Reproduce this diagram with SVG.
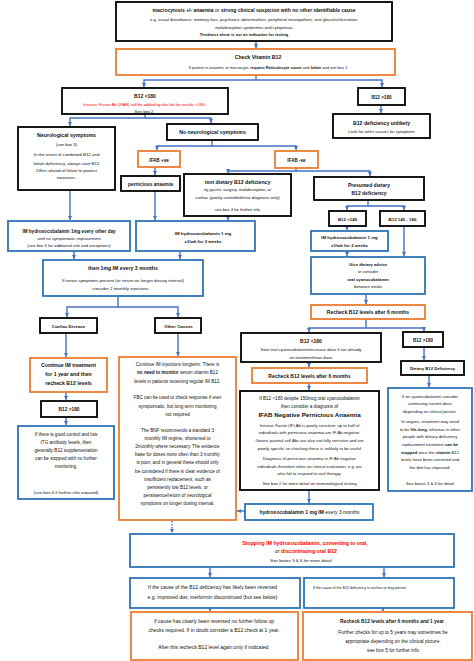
<svg xmlns="http://www.w3.org/2000/svg" width="474" height="661" viewBox="0 0 474 661">
<defs>
<style>
.bk{fill:#fff;stroke:#000;stroke-width:1.8}
.or{fill:#fff;stroke:#ED7D31;stroke-width:1.8}
.bl{fill:#fff;stroke:#2E75B6;stroke-width:1.8}
.c{fill:none;stroke:#4472C4;stroke-width:1.4;marker-end:url(#a)}
.d{stroke-dasharray:1.6 1.4}
text{font-family:"Liberation Sans",Arial,sans-serif;fill:#111;text-anchor:middle}
.b{font-weight:bold}
.r{fill:#f00}
.s36{font-size:3.6px}.s40{font-size:4px}.s42{font-size:4.2px}.s44{font-size:4.4px}
.s46{font-size:4.6px}.s48{font-size:4.8px}.s50{font-size:5px}.s52{font-size:5.2px}.s54{font-size:5.4px}.s62{font-size:6.2px}
</style>
<marker id="a" viewBox="0 0 6 6" refX="6" refY="3" markerWidth="4.2" markerHeight="4.2" orient="auto" markerUnits="userSpaceOnUse"><path d="M0,0 L6,3 L0,6 z" fill="#4472C4"/></marker>
</defs>

<g id="connectors">
<path class="c" d="M256 42 V48"/>
<path class="c" d="M256 75 V80 H144 V87"/>
<path class="c" d="M256 80 H382 V87"/>
<path class="c" d="M381 105 V113"/>
<path class="c" d="M145 114 V118 H70 V126"/>
<path class="c" d="M145 118 H211 V123"/>
<path class="c" d="M70 190 V220"/>
<path class="c" d="M212 140 V146 H157 V150"/>
<path class="c" d="M212 146 H296 V150"/>
<path class="c" d="M155 167 V175"/>
<path class="c" d="M296 168 V171 H228 V173"/>
<path class="c" d="M296 171 H370 V176"/>
<path class="c" d="M155 191 V220"/>
<path class="c" d="M228 216 V220"/>
<path class="c" d="M368 200 V206 H347 V210"/>
<path class="c" d="M368 206 H404 V210"/>
<path class="c" d="M347 226 V230"/>
<path class="c" d="M347 251 V256"/>
<path class="c" d="M404 226 V256"/>
<path class="c" d="M366 294 V304"/>
<path class="c" d="M366 319 V328 H309 V332"/>
<path class="c" d="M366 328 H424 V331"/>
<path class="c" d="M74 251 V259"/>
<path class="c" d="M180 251 V259"/>
<path class="c" d="M118 296 V307 H67 V317"/>
<path class="c" d="M118 307 H178 V317"/>
<path class="c" d="M66 333 V357"/>
<path class="c" d="M66 392 V400"/>
<path class="c" d="M66 417 V425"/>
<path class="c" d="M178 333 V356"/>
<path class="c" d="M309 362 V367"/>
<path class="c" d="M309 383 V390"/>
<path class="c" d="M309 490 V503"/>
<path class="c" d="M424 347 V360"/>
<path class="c" d="M429 375 V387"/>
<path class="c" d="M245 511 H237"/>
<path class="c d" d="M172 521 V533"/>
<path class="c" d="M210 567 V577"/>
<path class="c" d="M384 567 V577"/>
<path class="c" d="M210 608 V611"/>
<path class="c" d="M383 608 V611"/>
</g>

<g id="n-start">
<rect class="bk" x="116" y="2" width="276" height="39" stroke-width="2"/>
<text x="254" y="12" class="s50"><tspan class="b">macrocytosis +/- anaemia</tspan> or <tspan class="b">strong clinical suspicion with no other identifiable cause</tspan></text>
<text x="254" y="21" class="s42">e.g. visual disturbance, memory loss, psychiatric abnormalities, peripheral neuropathies, oral glossitis/ulceration,</text>
<text x="254" y="28.5" class="s42">malabsorption syndromes and cytopenias</text>
<text x="244" y="36" class="s40 b">Tiredness alone is not an indication for testing</text>
</g>

<g id="n-check">
<rect class="or" x="116" y="49" width="279" height="26"/>
<text x="258" y="59" class="s52 b">Check Vitamin B12</text>
<text x="268" y="69" class="s40">If patient is anaemic or macrocytic <tspan class="b">request Reticulocyte count</tspan> and <tspan class="b">folate</tspan> and see box 1</text>
</g>

<g id="n-b12lt180">
<rect class="bk" x="62" y="88" width="166" height="26"/>
<text x="145" y="98" class="s50 b">B12 &lt;180</text>
<text x="144" y="106" class="s42 r">Intrinsic Factor Ab (IFAB) will be added by the lab for results &lt;180</text>
<text x="144" y="113" class="s42">See box 2</text>
</g>

<g id="n-b12gt180">
<rect class="bk" x="358" y="88" width="47" height="17"/>
<text x="381.5" y="98.5" class="s46 b">B12 &gt;180</text>
</g>

<g id="n-unlikely">
<rect class="bk" x="333" y="114" width="97" height="24"/>
<text x="381.5" y="125" class="s52 b">B12 deficiency unlikely</text>
<text x="381.5" y="133" class="s42">Look for other causes for symptoms</text>
</g>

<g id="n-neuro">
<rect class="bk" x="18" y="127" width="97" height="63"/>
<text x="66.5" y="137" class="s52 b">Neurological symptoms</text>
<text x="66.5" y="145.5" class="s42">(see box 3)</text>
<text x="66.5" y="156" class="s44">In the event of combined B12 and</text>
<text x="66.5" y="164.5" class="s44">folate deficiency, always start B12</text>
<text x="66.5" y="171.5" class="s44">24hrs ahead of folate to protect</text>
<text x="66.5" y="178.5" class="s44">neurones.</text>
</g>

<g id="n-noneuro">
<rect class="bk" x="167" y="124" width="91" height="16"/>
<text x="212.5" y="134" class="s52 b">No neurological  symptoms</text>
</g>

<g id="n-ifabpos">
<rect class="or" x="138" y="151" width="42" height="16"/>
<text x="159" y="161.5" class="s46 b">IFAB +ve</text>
</g>

<g id="n-ifabneg">
<rect class="or" x="275" y="151" width="43" height="17"/>
<text x="296.5" y="162" class="s46 b">IFAB -ve</text>
</g>

<g id="n-pernicious">
<rect class="bk" x="121" y="176" width="59" height="15"/>
<text x="150.5" y="185.5" class="s48 b">pernicious anaemia</text>
</g>

<g id="n-nondietary">
<rect class="bk" x="184" y="174" width="107" height="42"/>
<text x="237.5" y="184" class="s52 b">non dietary B12 deficiency</text>
<text x="237.5" y="191" class="s42">eg gastric surgery, malabsorption, or</text>
<text x="237.5" y="198.5" class="s42">coeliac (poorly controlled/new diagnosis only)</text>
<text x="237.5" y="210.5" class="s42">see box 4 for further info</text>
</g>

<g id="n-presumed">
<rect class="bk" x="314" y="177" width="110" height="23"/>
<text x="369" y="186.5" class="s50 b">Presumed dietary</text>
<text x="369" y="195" class="s50 b">B12 deficiency</text>
</g>

<g id="n-lt145">
<rect class="bk" x="329" y="211" width="37" height="15"/>
<text x="347.5" y="220.5" class="s44 b">B12 &lt;145</text>
</g>

<g id="n-145-180">
<rect class="bk" x="380" y="211" width="45" height="15"/>
<text x="402.5" y="220.5" class="s44 b">B12 145 - 180</text>
</g>

<g id="n-im-dietary">
<rect class="bl" x="311" y="231" width="77" height="20"/>
<text x="349.5" y="238.5" class="s44 b">IM hydroxocobalamin 1 mg</text>
<text x="349.5" y="246.5" class="s44 b">x1/wk for 2 weeks</text>
</g>

<g id="n-give">
<rect class="bl" x="311" y="257" width="114" height="37"/>
<text x="368" y="265.5" class="s42 b">Give dietary advice</text>
<text x="368" y="273" class="s42">or consider</text>
<text x="368" y="280.5" class="s42 b">oral cyanocobalamin</text>
<text x="368" y="288" class="s42">between meals</text>
</g>

<g id="n-recheck-right">
<rect class="or" x="311" y="305" width="114" height="14"/>
<text x="368" y="313.8" class="s50 b">Recheck B12 levels after 6 months</text>
</g>

<g id="n-b12lt180-right">
<rect class="bk" x="241" y="333" width="140" height="29"/>
<text x="311" y="343" class="s50 b">B12 &lt;180</text>
<text x="311" y="351" class="s42">Start oral cyanocobalamin/increase dose if not already</text>
<text x="311" y="358.5" class="s42">on treatment/max dose</text>
</g>

<g id="n-b12gt180-right">
<rect class="bk" x="403" y="332" width="40" height="15"/>
<text x="423" y="341.5" class="s46 b">B12 &gt;180</text>
</g>

<g id="n-dietarydef">
<rect class="bk" x="401" y="361" width="63" height="14"/>
<text x="432.5" y="370" class="s42 b">Dietary B12 Deficiency</text>
</g>

<g id="n-dietary-detail">
<rect class="bl" x="388" y="388" width="84" height="103"/>
<text x="430" y="397.5" class="s42">If on cyanocobalamin consider</text>
<text x="430" y="405" class="s42">continuing current dose</text>
<text x="430" y="412.5" class="s42">depending on clinical picture.</text>
<text x="430" y="423" class="s42">In vegans, treatment may need</text>
<text x="430" y="430.5" class="s42">to be <tspan class="b">life-long</tspan>, whereas in other</text>
<text x="430" y="438" class="s42">people with dietary deficiency</text>
<text x="430" y="445.5" class="s42">replacement treatment <tspan class="b">can be</tspan></text>
<text x="430" y="453.5" class="s42"><tspan class="b">stopped</tspan> once the <tspan class="b">vitamin</tspan> B12</text>
<text x="430" y="461" class="s42">levels have been corrected and</text>
<text x="430" y="468.5" class="s42">the diet has improved.</text>
<text x="430" y="484.5" class="s42">See boxes 5 &amp; 6 for detail</text>
</g>

<g id="n-recheck-mid">
<rect class="or" x="252" y="368" width="115" height="15"/>
<text x="309.5" y="377.5" class="s50 b">Recheck B12 levels after 6 months</text>
</g>

<g id="n-ifabneg-pa">
<rect class="bk" x="240" y="391" width="139" height="99"/>
<text x="309.5" y="399.5" class="s46">If B12 &lt;180 despite 150mcg oral cyanocobalamin</text>
<text x="309.5" y="407.5" class="s46">then consider a diagnosis of</text>
<text x="309.5" y="416.5" class="s62 b">IFAB Negative Pernicious Anaemia</text>
<text x="309.5" y="426.5" class="s42">Intrinsic Factor (IF) Ab is poorly sensitive: up to half of</text>
<text x="309.5" y="434" class="s42">individuals with pernicious anaemia are IF Ab negative.</text>
<text x="309.5" y="441.5" class="s42">Gastric parietal cell Abs are also not fully sensitive and are</text>
<text x="309.5" y="449.5" class="s42">poorly specific so checking these is unlikely to be useful</text>
<text x="309.5" y="459.5" class="s42">Diagnosis of pernicious anaemia in IF Ab negative</text>
<text x="309.5" y="467.5" class="s42">individuals therefore relies on clinical evaluation, e.g. pts</text>
<text x="309.5" y="474.5" class="s42">who fail to respond to oral therapy.</text>
<text x="309.5" y="484.5" class="s42">See box 2 for more detail on immunological testing</text>
</g>

<g id="n-im-neuro">
<rect class="bl" x="8" y="221" width="122" height="30"/>
<text x="69" y="233" class="s46 b">IM hydroxocobalamin 1mg every other day</text>
<text x="69" y="240" class="s42">until no symptomatic improvement</text>
<text x="69" y="247" class="s42">(see box 3 for additional info and exceptions)</text>
</g>

<g id="n-im-pa">
<rect class="bl" x="136" y="221" width="119" height="30"/>
<text x="203" y="235" class="s44 b">IM hydroxocobalamin 1 mg</text>
<text x="203" y="243" class="s44 b">x1/wk for 2 weeks</text>
</g>

<g id="n-then">
<rect class="bl" x="43" y="260" width="160" height="36"/>
<text x="123" y="270" class="s52 b">then 1mg IM  every 3 months</text>
<text x="123" y="281.5" class="s44">If neuro symptoms present (or return on longer dosing interval)</text>
<text x="121" y="289.5" class="s44">consider 2 monthly injections.</text>
</g>

<g id="n-coeliac">
<rect class="bk" x="40" y="318" width="57" height="15"/>
<text x="68.5" y="327.5" class="s44 b">Coeliac Disease</text>
</g>

<g id="n-other">
<rect class="bk" x="155" y="318" width="46" height="15"/>
<text x="178.5" y="327.5" class="s44 b">Other Causes</text>
</g>

<g id="n-continue">
<rect class="or" x="30" y="358" width="77" height="34"/>
<text x="68.5" y="367" class="s52 b">Continue IM treatment</text>
<text x="68.5" y="376" class="s52 b">for 1 year and then</text>
<text x="68.5" y="385" class="s52 b">recheck B12 levels</text>
</g>

<g id="n-b12gt180-left">
<rect class="bk" x="41" y="401" width="56" height="16"/>
<text x="69" y="411" class="s48 b">B12 &gt;180</text>
</g>

<g id="n-coeliac-stop">
<rect class="bl" x="18" y="426" width="96" height="73"/>
<text x="66" y="435.5" class="s46">If there is good control and low</text>
<text x="66" y="443.5" class="s46">tTG antibody levels, then</text>
<text x="66" y="451.5" class="s46">generally B12 supplementation</text>
<text x="66" y="459.5" class="s46">can be stopped with no further</text>
<text x="66" y="468" class="s46">monitoring.</text>
<text x="66" y="493.5" class="s44">(see box 4 if further info required)</text>
</g>

<g id="n-other-detail">
<rect class="or" x="119" y="357" width="117" height="163"/>
<text x="177.5" y="365.5" class="s46">Continue IM injections longterm. There is</text>
<text x="177.5" y="374" class="s46"><tspan class="b">no need to monitor</tspan> serum vitamin B12</text>
<text x="177.5" y="382.5" class="s46">levels in patients receiving regular IM B12.</text>
<text x="177.5" y="399" class="s46">FBC can be used to check response if ever</text>
<text x="177.5" y="407.5" class="s46">symptomatic, but long term monitoring</text>
<text x="177.5" y="416" class="s46">not required</text>
<text x="177.5" y="431.5" class="s46">The BNF recommends a standard 3</text>
<text x="177.5" y="439.7" class="s46">monthly IM regime, shortened to</text>
<text x="177.5" y="447.9" class="s46">2monthly where necessary. The evidence</text>
<text x="177.5" y="456.1" class="s46">base for doses more often than 3 monthly</text>
<text x="177.5" y="464.3" class="s46">is poor, and in general these should only</text>
<text x="177.5" y="472.5" class="s46">be considered if there is clear evidence of</text>
<text x="177.5" y="480.7" class="s46">insufficient replacement, such as</text>
<text x="177.5" y="488.9" class="s46">persistently low B12 levels, or</text>
<text x="177.5" y="497.1" class="s46">persistence/return of neurological</text>
<text x="177.5" y="505.3" class="s46">symptoms on longer dosing interval.</text>
</g>

<g id="n-hydroxo">
<rect class="bl" x="245" y="504" width="128" height="16"/>
<text x="309.5" y="514" class="s50"><tspan class="b">hydroxocobalamin 1 mg IM</tspan> every 3 months</text>
</g>

<g id="n-stopping">
<rect class="bl" x="130" y="534" width="324" height="33"/>
<text x="305" y="545" class="s52 b r">Stopping IM hydroxocobalamin, converting to oral,</text>
<text x="306" y="553" class="s52">or <tspan class="b r">discontinuing oral B12</tspan></text>
<text x="301" y="561.5" class="s44">See boxes 5 &amp; 6 for more detail</text>
</g>

<g id="n-reversed">
<rect class="bl" x="130" y="578" width="170" height="30"/>
<text x="212.5" y="589" class="s50">If the cause of the B12 deficiency has likely been reversed</text>
<text x="212.5" y="599" class="s50">e.g. improved diet, metformin discontinued (but see below)</text>
</g>

<g id="n-unclear">
<rect class="bl" x="304" y="578" width="150" height="30"/>
<text x="313" y="588.5" class="s36" text-anchor="start" style="text-anchor:start">If the cause of the B12 deficiency is unclear or may persist</text>
</g>

<g id="n-nofollow">
<rect class="or" x="131" y="612" width="167" height="48"/>
<text x="214" y="623" class="s50">If cause has clearly been reversed no further follow up</text>
<text x="214" y="632" class="s50">checks required.  If in doubt consider a B12 check at 1 year.</text>
<text x="214" y="649" class="s50">After this recheck B12 level again only if indicated.</text>
</g>

<g id="n-recheck-1yr">
<rect class="or" x="303" y="612" width="169" height="48"/>
<text x="392" y="622.5" class="s48 b">Recheck B12 levels after 6 months and 1 year</text>
<text x="393" y="633.5" class="s48">Further checks for up to 5 years may sometimes be</text>
<text x="393" y="642.5" class="s48">appropriate depending on the clinical picture.</text>
<text x="393" y="651.5" class="s48">see box 5 for further info</text>
</g>
</svg>
